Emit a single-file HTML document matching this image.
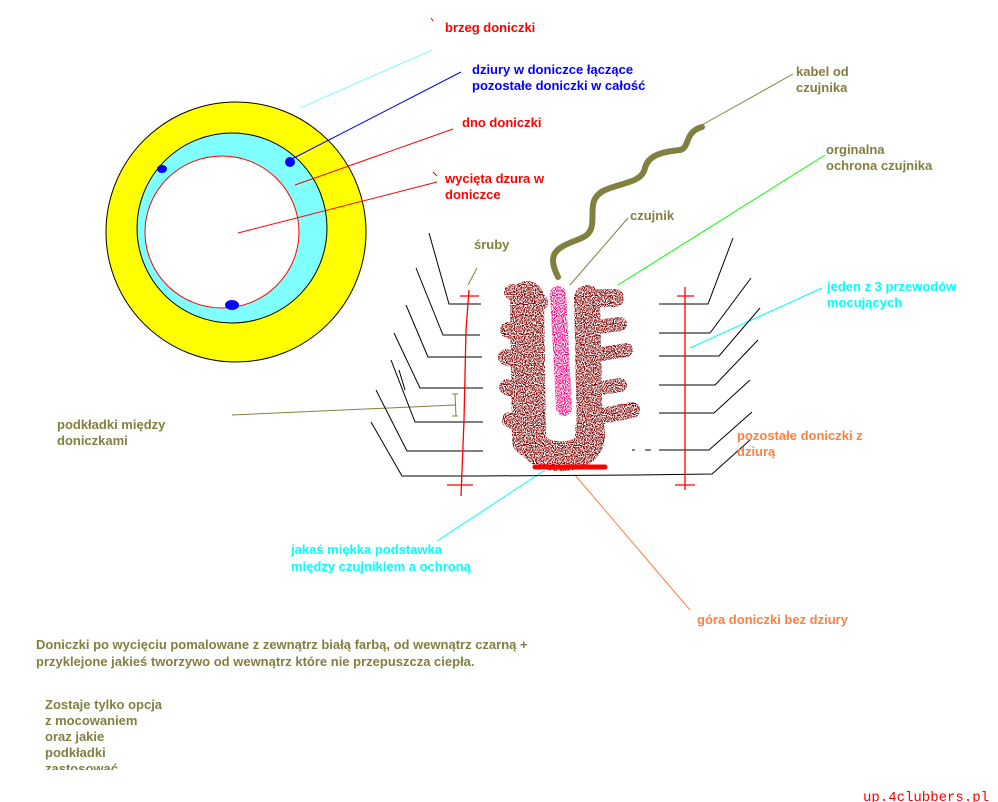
<!DOCTYPE html>
<html><head><meta charset="utf-8"><style>
html,body{margin:0;padding:0;background:#fff}
svg{display:block}
text{font-family:"Liberation Sans",Arial,sans-serif;font-weight:bold;font-size:13px}
</style></head><body>
<svg width="998" height="802" viewBox="0 0 998 802" xmlns="http://www.w3.org/2000/svg">
<defs>
<filter id="sp" filterUnits="userSpaceOnUse" x="0" y="0" width="998" height="802">
<feTurbulence type="fractalNoise" baseFrequency="0.9" numOctaves="1" seed="3" result="n"/>
<feColorMatrix in="n" type="matrix" values="0 0 0 0 0  0 0 0 0 0  0 0 0 0 0  0 0 0 -9 5.0" result="m"/>
<feComposite in="SourceGraphic" in2="m" operator="in"/>
</filter>
</defs>
<!-- pot circle -->
<circle cx="236" cy="232" r="130" fill="#ffff00" stroke="#000" stroke-width="1"/>
<circle cx="232" cy="228" r="95" fill="#80ffff" stroke="#000" stroke-width="1"/>
<ellipse cx="222" cy="232" rx="77" ry="76" fill="#fff" stroke="#ff0000" stroke-width="1"/>
<ellipse cx="162" cy="169" rx="5" ry="4" fill="#0000ff"/>
<ellipse cx="290" cy="162" rx="5" ry="5" fill="#0000ff"/>
<ellipse cx="232" cy="305" rx="7" ry="5" fill="#0000ff"/>
<!-- leader lines -->
<g stroke-width="1" fill="none">
<line x1="300" y1="108" x2="432" y2="50" stroke="#80ffff"/>
<line x1="431" y1="18" x2="433" y2="21" stroke="#f00"/>
<line x1="290" y1="160" x2="461" y2="72" stroke="#0000ff"/>
<line x1="295" y1="185" x2="453" y2="129" stroke="#f00"/>
<line x1="238" y1="233" x2="437" y2="182" stroke="#f00"/>
<line x1="433" y1="172" x2="437" y2="176" stroke="#f00"/>
<line x1="702" y1="125" x2="793" y2="74" stroke="#808040"/>
<line x1="570" y1="285" x2="628" y2="218" stroke="#808040"/>
<line x1="618" y1="285" x2="825" y2="155" stroke="#00ff00"/>
<line x1="468" y1="285" x2="477" y2="268" stroke="#808040"/>
<line x1="690" y1="348" x2="822" y2="288" stroke="#00ffff"/>
<line x1="232" y1="415" x2="455" y2="405" stroke="#808040"/>
<line x1="452" y1="394" x2="458" y2="394" stroke="#808040"/>
<line x1="455" y1="394" x2="456" y2="416" stroke="#808040"/>
<line x1="452" y1="416" x2="458" y2="416" stroke="#808040"/>
<line x1="437" y1="541" x2="545" y2="470" stroke="#00ffff"/>
<line x1="575" y1="475" x2="690" y2="610" stroke="#ff8040"/>
</g>
<!-- stacked pots black lines -->
<g stroke="#000" stroke-width="1" fill="none">
<polyline points="429,233 449,304 481,304"/>
<polyline points="416,268 443,335 480,335"/>
<polyline points="406,305 428,357 482,357"/>
<polyline points="394,333 420,388 483,388"/>
<polyline points="391,360 415,422 483,422"/>
<line x1="399" y1="370" x2="405" y2="390"/>
<polyline points="376,390 407,451 483,451"/>
<polyline points="371,422 402,476 480,476 633,475 712,474 750,440"/>
<polyline points="659,304 708,304 733,238"/>
<polyline points="659,333 710,333 751,278"/>
<polyline points="659,356 719,356 760,308"/>
<polyline points="659,385 715,385 758,340"/>
<polyline points="659,413 714,413 750,380"/>
<polyline points="659,450 709,450 752,412"/>
<line x1="632" y1="450" x2="635" y2="450"/><line x1="645" y1="450" x2="651" y2="450"/>
</g>
<!-- screws -->
<g stroke="#ff0000" stroke-width="1.3" fill="none">
<polyline points="469,290 466,330 464,420 461,496"/>
<line x1="460" y1="296" x2="479" y2="296"/>
<line x1="447" y1="485" x2="473" y2="485"/>
<line x1="685" y1="287" x2="685" y2="490"/>
<line x1="677" y1="296" x2="694" y2="296"/>
<line x1="675" y1="485" x2="695" y2="485"/>
</g>
<!-- cable -->
<path d="M558,277 C552,265 550,255 560,248 C575,238 590,240 592,225 C594,212 588,198 605,190 C625,182 642,182 645,168 C648,156 660,152 680,150 C690,148 684,132 702,127" fill="none" stroke="#808040" stroke-width="6" stroke-linejoin="round" stroke-linecap="round"/>
<!-- sensor -->
<g filter="url(#sp)" stroke="#800000" stroke-linecap="round" fill="none">
<line x1="527" y1="298" x2="529" y2="440" stroke-width="34"/>
<path d="M530 440 Q540 458 565 456 Q592 454 590 430" stroke-width="30"/>
<line x1="587" y1="298" x2="590" y2="440" stroke-width="26"/>
<line x1="512" y1="292" x2="540" y2="302" stroke-width="16"/>
<line x1="508" y1="330" x2="530" y2="340" stroke-width="16"/>
<line x1="506" y1="357" x2="530" y2="365" stroke-width="16"/>
<line x1="507" y1="387" x2="530" y2="395" stroke-width="16"/>
<line x1="510" y1="420" x2="532" y2="428" stroke-width="16"/>
<line x1="590" y1="298" x2="615" y2="298" stroke-width="18"/>
<line x1="590" y1="328" x2="620" y2="324" stroke-width="14"/>
<line x1="590" y1="356" x2="626" y2="350" stroke-width="14"/>
<line x1="590" y1="390" x2="620" y2="385" stroke-width="14"/>
<line x1="592" y1="418" x2="632" y2="410" stroke-width="16"/>
</g>
<polyline points="558,294 561,350 564,408" filter="url(#sp)" fill="none" stroke="#ff0080" stroke-width="16" stroke-linecap="round"/>
<line x1="535" y1="467" x2="605" y2="467" stroke="#ff0000" stroke-width="5" stroke-linecap="round"/>
<!-- labels -->
<g fill="#ff0000">
<text x="445" y="32">brzeg doniczki</text>
<text x="462" y="127">dno doniczki</text>
<text x="445" y="183">wycięta dzura w</text>
<text x="445" y="199">doniczce</text>
</g>
<g fill="#0000ff">
<text x="472" y="74">dziury w doniczce łączące</text>
<text x="472" y="90">pozostałe doniczki w całość</text>
</g>
<g fill="#808040">
<text x="796" y="76">kabel od</text>
<text x="796" y="92">czujnika</text>
<text x="826" y="154">orginalna</text>
<text x="826" y="170">ochrona czujnika</text>
<text x="630" y="220">czujnik</text>
<text x="474" y="249">śruby</text>
<text x="57" y="429">podkładki między</text>
<text x="57" y="445">doniczkami</text>
<text x="36" y="649">Doniczki po wycięciu pomalowane z zewnątrz białą farbą, od wewnątrz czarną +</text>
<text x="36" y="666">przyklejone jakieś tworzywo od wewnątrz które nie przepuszcza ciepła.</text>
<text x="45" y="709">Zostaje tylko opcja</text>
<text x="45" y="725">z mocowaniem</text>
<text x="45" y="741">oraz jakie</text>
<text x="45" y="757">podkładki</text>
</g>
<svg x="0" y="760" width="300" height="10"><text x="45" y="13" fill="#808040">zastosować</text></svg>
<g fill="#00ffff">
<text x="827" y="291">jeden z 3 przewodów</text>
<text x="827" y="307">mocujących</text>
<text x="291" y="554">jakaś miękka podstawka</text>
<text x="291" y="571">między czujnikiem a ochroną</text>
</g>
<g fill="#ff8040">
<text x="737" y="440">pozostałe doniczki z</text>
<text x="737" y="456">dziurą</text>
<text x="697" y="624">góra doniczki bez dziury</text>
</g>
<text x="863" y="801" fill="#ff0000" style="font-family:'Liberation Mono',monospace;font-size:14px;font-weight:normal">up.4clubbers.pl</text>
</svg>
</body></html>
